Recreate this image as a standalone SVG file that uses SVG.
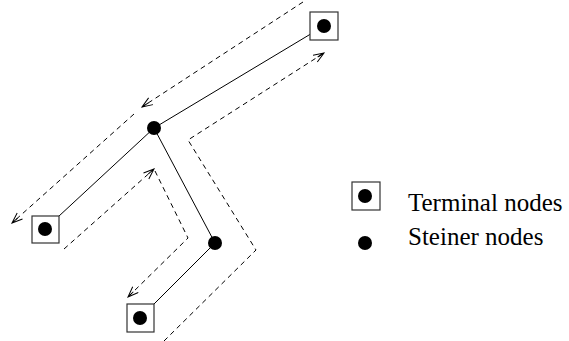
<svg xmlns="http://www.w3.org/2000/svg" width="569" height="341" viewBox="0 0 569 341">
  <style>
    .edge { stroke: #000; stroke-width: 1; fill: none; }
    .walk { stroke: #000; stroke-width: 1; fill: none; stroke-dasharray: 5 4; }
    .box { fill: #fff; stroke: #333; stroke-width: 1.2; }
    .dot { fill: #000; }
    .label { font-family: "Liberation Serif", "Times New Roman", serif; font-size: 25px; fill: #000; }
  </style>
  <defs>
    <marker id="arrow" markerWidth="12" markerHeight="10" refX="11" refY="4.5" orient="auto" markerUnits="userSpaceOnUse">
      <path d="M0.5,0.5 L11,4.5 L0.5,8.5 M3.5,4.5 L11,4.5" fill="none" stroke="#000" stroke-width="1"/>
    </marker>
  </defs>

  <!-- tree edges -->
  <g id="edges">
    <line class="edge" x1="324" y1="26" x2="154" y2="128"/>
    <line class="edge" x1="154" y1="128" x2="45" y2="229"/>
    <line class="edge" x1="154" y1="128" x2="215" y2="243"/>
    <line class="edge" x1="215" y1="243" x2="140" y2="318"/>
  </g>

  <!-- dashed walk around the tree -->
  <g id="walk">
    <line class="walk" x1="303" y1="2" x2="142" y2="107" marker-end="url(#arrow)"/>
    <line class="walk" x1="134" y1="114" x2="12" y2="223" marker-end="url(#arrow)"/>
    <line class="walk" x1="64" y1="249" x2="154" y2="169" marker-end="url(#arrow)"/>
    <polyline class="walk" points="155,171 188,238 128,297" marker-end="url(#arrow)"/>
    <polyline class="walk" points="164,341 256,250 188,140 324,53" marker-end="url(#arrow)"/>
  </g>

  <!-- terminal nodes -->
  <g id="t-top">
    <rect class="box" x="310" y="12" width="28" height="28"/>
    <circle class="dot" cx="324" cy="26" r="7"/>
  </g>
  <g id="t-left">
    <rect class="box" x="32" y="216" width="27" height="27"/>
    <circle class="dot" cx="45" cy="229" r="7"/>
  </g>
  <g id="t-bottom">
    <rect class="box" x="127" y="304" width="27" height="28"/>
    <circle class="dot" cx="140" cy="318" r="7"/>
  </g>

  <!-- steiner nodes -->
  <g id="s-upper">
    <circle class="dot" cx="154" cy="128" r="7"/>
  </g>
  <g id="s-lower">
    <circle class="dot" cx="215" cy="243" r="7"/>
  </g>

  <!-- legend -->
  <g id="legend-terminal">
    <rect class="box" x="352" y="182" width="28" height="28"/>
    <circle class="dot" cx="365" cy="196" r="7"/>
    <text class="label" x="408" y="211">Terminal nodes</text>
  </g>
  <g id="legend-steiner">
    <circle class="dot" cx="365" cy="243" r="7"/>
    <text class="label" x="408" y="245">Steiner nodes</text>
  </g>
</svg>
